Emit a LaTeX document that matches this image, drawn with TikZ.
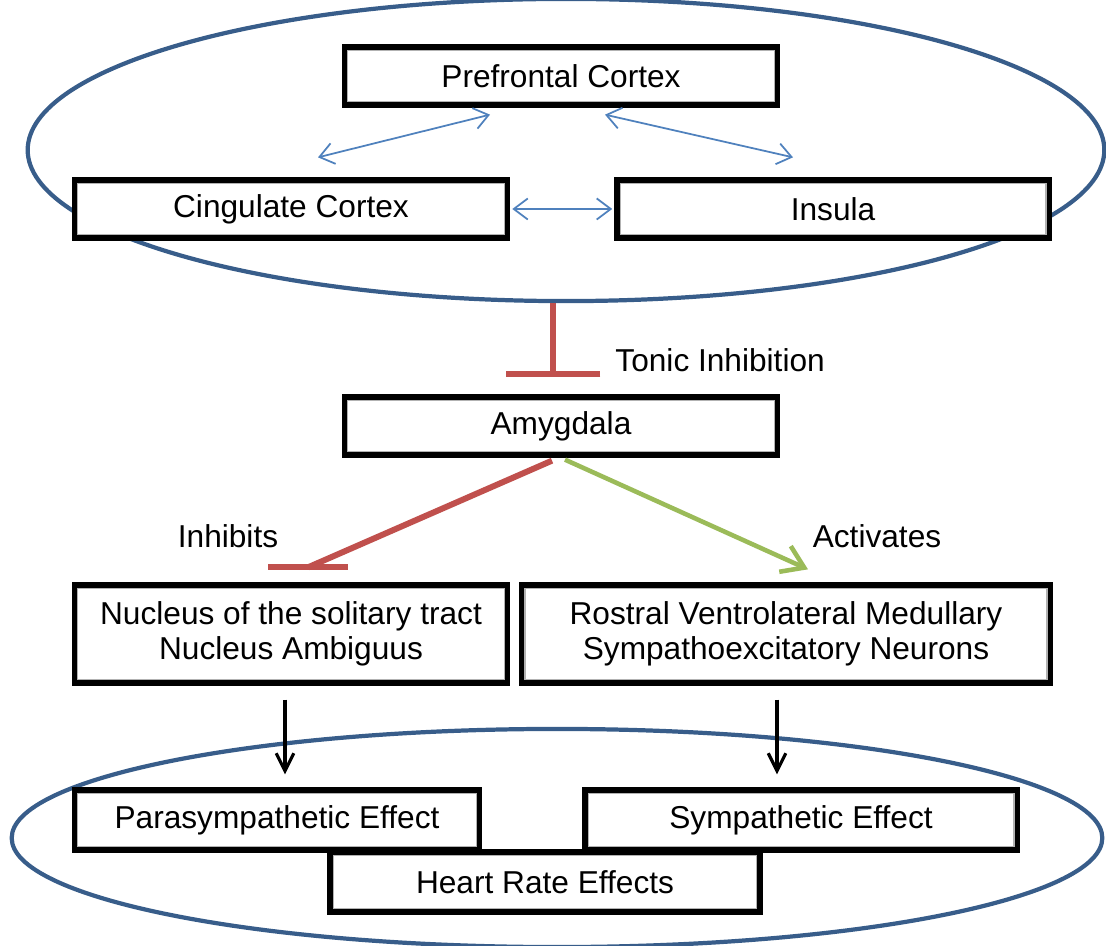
\documentclass[tikz,border=0pt]{standalone}
\usepackage{fontspec}
\setmainfont{Liberation Sans}
\usepackage{xcolor}
\usepackage{tikz}
\usetikzlibrary{arrows.meta, positioning, calc, shapes.geometric}

\definecolor{ringblue}{RGB}{56,93,138}
\definecolor{linkblue}{RGB}{79,129,189}
\definecolor{inhred}{RGB}{192,80,77}
\definecolor{actgreen}{RGB}{155,187,89}

\begin{document}
\begin{tikzpicture}[
        x=0.01cm, y=-0.01cm,
        box/.style={rectangle, draw, line width=1.5pt, fill=white,
                    minimum height=0.58cm, inner sep=2pt, align=center,
                    font=\fontsize{9}{10}\selectfont,
                    path picture={\draw[black!30, line width=2.2pt]
                        (path picture bounding box.south west) rectangle
                        (path picture bounding box.north east);}},
        ring/.style={ellipse, draw=ringblue, line width=1.2pt, inner sep=0pt},
        link/.style={{Straight Barb[length=4pt,width=6pt]}-{Straight Barb[length=4pt,width=6pt]},
                     draw=linkblue, line width=0.5pt},
        inhib/.style={draw=inhred, line width=1.7pt},
        act/.style={-{Straight Barb[length=6pt,width=8pt]}, draw=actgreen, line width=1.3pt},
        down/.style={-{Straight Barb[length=5pt,width=5pt]}, line width=0.9pt},
        lbl/.style={font=\fontsize{9}{10}\selectfont},
    ]
        \useasboundingbox (0,0) rectangle (1106,946);

        % cortical loop
        \node[ring, minimum width=10.76cm, minimum height=3.02cm] (cortex) at (566,150) {};
        \node[box, minimum width=4.33cm] (pfc)  at (561,76)  {Prefrontal Cortex};
        \node[box, minimum width=4.33cm] (cing) at (291,209) {Cingulate Cortex};
        \node[box, minimum width=4.32cm] (ins)  at (833,209) {Insula};
        \draw[link] ($(pfc.south)+(-71,7)$) -- ($(cing.north)+(27,-20)$);
        \draw[link] ($(pfc.south)+(44,7)$) -- ($(ins.north)+(-40,-20)$);
        \draw[link] ($(cing.east)+(2,0)$) -- ($(ins.west)+(-2,0)$);

        \node[box, minimum width=4.33cm] (amy) at (561,426) {Amygdala};
        \draw[inhib, -{Bar[width=27pt]}] ($(cortex.south)+(-13,0)$) -- ($(amy.north)+(-8,-17)$);
        \node[lbl, anchor=west] (tonic) at (603,360) {Tonic Inhibition};

        \node[box, minimum width=4.33cm, minimum height=0.98cm] (nts)  at (291,634)
            {Nucleus of the solitary tract\\Nucleus Ambiguus};
        \node[box, minimum width=5.28cm, minimum height=0.98cm] (rvlm) at (786,634)
            {Rostral Ventrolateral Medullary\\Sympathoexcitatory Neurons};

        \coordinate (inhend) at ($(nts.north)+(17,-15)$);
        \draw[inhib] ($(amy.south)+(-9,3)$) -- (inhend);
        \draw[inhib] ($(inhend)+(-40,0)$) -- ($(inhend)+(40,0)$);
        \draw[act] ($(amy.south)+(4,2)$) -- ($(rvlm.north)+(22,-13)$);
        \node[lbl] (inhlbl) at (228,536) {Inhibits};
        \node[lbl] (actlbl) at (877,536) {Activates};

        % heart rate loop
        \node[ring, minimum width=10.9cm, minimum height=2.18cm] (heart) at (557,838) {};
        \node[box, minimum width=4.05cm, minimum height=0.6cm] (para) at (277,820) {Parasympathetic Effect};
        \node[box, minimum width=4.32cm, minimum height=0.6cm] (symp) at (801,820) {Sympathetic Effect};
        \node[box, minimum width=4.30cm, minimum height=0.6cm] (hr)   at (545,882) {Heart Rate Effects};
        \draw[down] ($(nts.south)+(-6,14)$) -- ($(para.north)+(8,-13)$);
        \draw[down] ($(rvlm.south)+(-9,14)$) -- ($(symp.north)+(-24,-13)$);
    \end{tikzpicture}
\end{document}
